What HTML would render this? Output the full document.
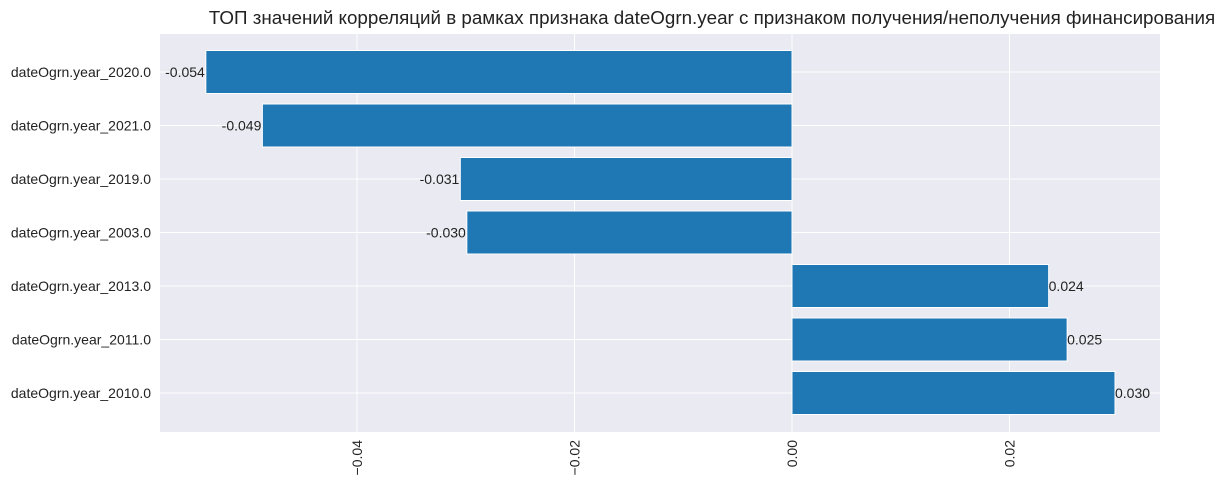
<!DOCTYPE html>
<html><head><meta charset="utf-8">
<style>
body{margin:0;background:#fff;}
svg{display:block;font-family:"Liberation Sans","DejaVu Sans",sans-serif;}
</style></head>
<body>
<svg id="chart" width="1228" height="488">
<rect x="160" y="34" width="1000" height="398" fill="#eaeaf2"/>
<text x="712" y="24" font-size="18.8" text-anchor="middle" fill="#222">ТОП значений корреляций в рамках признака dateOgrn.year с признаком получения/неполучения финансирования</text>
<g id="grid"></g><g id="bars"></g><g id="labels"></g>
</svg>
<script>
const categories=["dateOgrn.year_2020.0","dateOgrn.year_2021.0","dateOgrn.year_2019.0","dateOgrn.year_2003.0","dateOgrn.year_2013.0","dateOgrn.year_2011.0","dateOgrn.year_2010.0"];
const values=[-0.0539,-0.0487,-0.0305,-0.0299,0.0236,0.0253,0.0297];
const valueLabels=["-0.054","-0.049","-0.031","-0.030","0.024","0.025","0.030"];
const xTicks=[-0.04,-0.02,0.00,0.02];
const xTickLabels=["−0.04","−0.02","0.00","0.02"];
const NS="http://www.w3.org/2000/svg";
function xs(v){return 792+v*10875;}
function ys(i){return 72+i*53.5;}
function mk(t,a,p){const e=document.createElementNS(NS,t);for(const k in a)e.setAttribute(k,a[k]);p.appendChild(e);return e;}
const grid=document.getElementById('grid'),bars=document.getElementById('bars'),labels=document.getElementById('labels');
xTicks.forEach((t,i)=>{
 const l=mk('line',{x1:xs(t),x2:xs(t),y1:34,y2:432,stroke:'#fff','stroke-width':1},grid);
 
 
 const x=xs(t);
 const tx=mk('text',{x:x+5,y:440,'font-size':14,fill:'#222','text-anchor':'end',transform:`rotate(-90 ${x+5} 440)`},labels);
 tx.textContent=xTickLabels[i];
 
 
});
categories.forEach((c,i)=>{
 const y=ys(i);
 const g=mk('line',{x1:160,x2:1160,y1:y,y2:y,stroke:'#fff','stroke-width':1},grid);
 
 
 const v=values[i],x0=xs(0),x1=xs(v);
 const r=mk('rect',{x:Math.min(x0,x1),y:y-21.5,width:Math.abs(x1-x0),height:43,fill:'#1f77b4',stroke:'#fff','stroke-width':1},bars);
 
 
 const yl=mk('text',{x:151,y:y+5,'font-size':14,fill:'#222','text-anchor':'end'},labels);
 yl.textContent=c;
 
 
 const vl=mk('text',{x:v<0?x1-1:x1,y:y+5,'font-size':14,fill:'#222','text-anchor':v<0?'end':'start'},labels);
 vl.textContent=valueLabels[i];
 
 
});
</script>
</body></html>
